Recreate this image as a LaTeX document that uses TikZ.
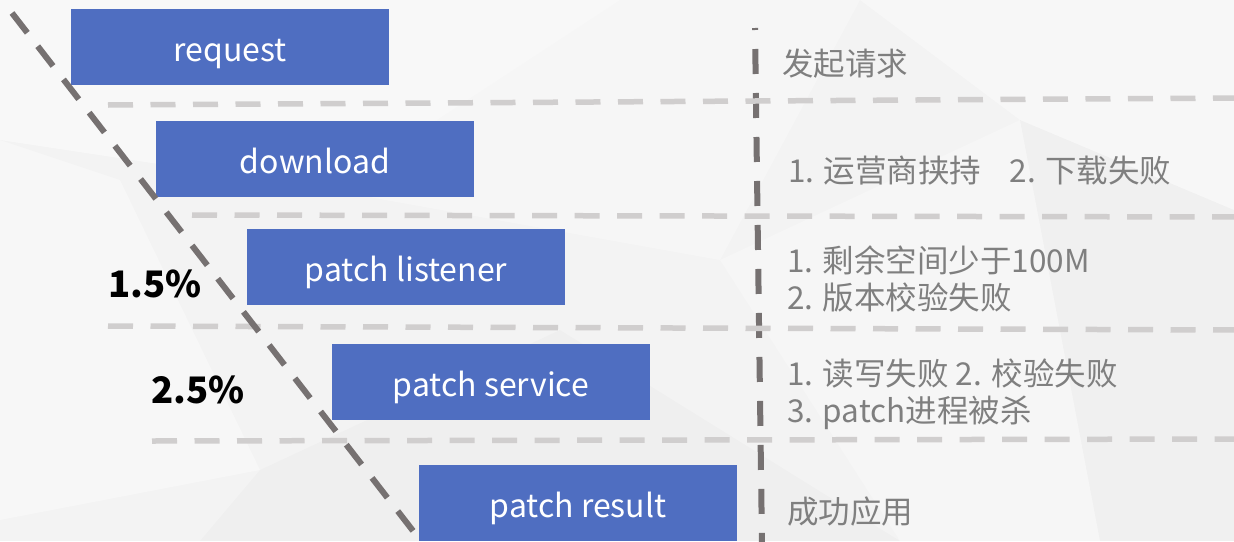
\documentclass[tikz,border=0pt]{standalone}
\usepackage{fontspec}
\setmainfont{Noto Sans CJK SC}
\definecolor{boxblue}{HTML}{4F6EC1}
\definecolor{guide}{HTML}{D0CECE}
\definecolor{axis}{HTML}{767171}
\definecolor{note}{HTML}{7F7F7F}
\definecolor{bgbase}{HTML}{F3F3F3}
\tikzset{
  stage/.style={rectangle, fill=boxblue, minimum width=318pt, minimum height=76pt,
    inner sep=0pt, text=white, text height=28pt, text depth=0pt,
    font=\fontsize{32}{38}\selectfont},
  notetext/.style={anchor=base west, inner sep=0pt, text=note,
    font=\fontsize{31.5}{37}\selectfont},
  ratio/.style={inner sep=0pt, text=black, font=\fontsize{36.5}{44}\selectfont\bfseries},
  rowline/.style={draw=guide, line width=5.5pt, dash pattern=on 25pt off 17.5pt},
  splitline/.style={draw=axis, line width=6pt, dash pattern=on 25pt off 19pt, dash phase=23pt},
  funnel/.style={draw=axis, line width=6pt, dash pattern=on 25pt off 17pt}
}
\begin{document}
\begin{tikzpicture}[x=1pt, y=-1pt]
\useasboundingbox (0,0) rectangle (1234,541);
\clip (0,0) rectangle (1234,541);

% faceted background
\fill[bgbase] (0,0) rectangle (1234,541);
\fill[white, opacity=0.45] (0,0) -- (620,0) -- (330,190) -- (0,140) -- cycle;
\fill[white, opacity=0.35] (0,140) -- (120,180) -- (260,470) -- (0,520) -- cycle;
\fill[white, opacity=0.30] (620,0) -- (860,0) -- (720,260) -- (330,190) -- cycle;
\fill[black, opacity=0.015] (260,470) -- (560,330) -- (900,541) -- (200,541) -- cycle;
\fill[white, opacity=0.35] (860,0) -- (1234,0) -- (1234,210) -- (1020,120) -- cycle;
\fill[black, opacity=0.012] (1020,120) -- (1234,210) -- (1234,541) -- (1100,541) -- cycle;
\fill[white, opacity=0.25] (720,260) -- (1020,120) -- (1100,541) -- (900,541) -- cycle;

% stages
\node[stage] (request)  at (230,47)  {request};
\node[stage] (download) at (315,159) {download};
\node[stage] (listener) at (406,267) {patch listener};
\node[stage] (service)  at (491,382) {patch service};
\node[stage] (result)   at (578,503) {patch result};

% end points of the guide lines
\coordinate (v0) at (755,28);
\coordinate (v1) at (762,545);
\coordinate (h1a) at (108,105); \coordinate (h1b) at (1240,98);
\coordinate (h2a) at (192,215); \coordinate (h2b) at (1240,217);
\coordinate (h3a) at (108,326); \coordinate (h3b) at (1240,330);
\coordinate (h4a) at (152,441); \coordinate (h4b) at (1240,439);
\coordinate (d0) at (12,13);
\coordinate (d1) at (424,545);

\draw[splitline] (v0) -- (v1);
\draw[rowline] (h1a) -- (h1b);
\draw[rowline] (h2a) -- (h2b);
\draw[rowline] (h3a) -- (h3b);
\draw[rowline] (h4a) -- (h4b);
\draw[funnel] (d0) -- (d1);

% loss rates
\node[ratio] (r1) at (155,284) {1.5\%};
\node[ratio] (r2) at (198,390) {2.5\%};

% failure notes
\node[notetext] (n1)  at (782,75)  {发起请求};
\node[notetext] (n2)  at (788,182) {1. 运营商挟持\hspace{0.9em}2. 下载失败};
\node[notetext] (n3a) at (787,272) {1. 剩余空间少于100M};
\node[notetext] (n3b) at (787,309) {2. 版本校验失败};
\node[notetext] (n4a) at (787,385) {1. 读写失败 2. 校验失败};
\node[notetext] (n4b) at (787,422) {3. patch进程被杀};
\node[notetext] (n5)  at (787,523) {成功应用};
\end{tikzpicture}
\end{document}
